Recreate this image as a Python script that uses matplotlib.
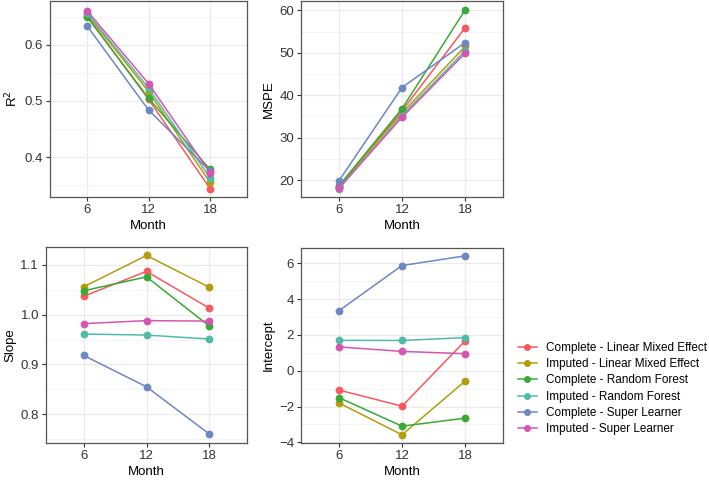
import matplotlib
matplotlib.use("Agg")
import matplotlib.pyplot as plt
from matplotlib.lines import Line2D
import numpy as np

plt.rcParams['font.family'] = ['Liberation Sans', 'DejaVu Sans']

# 数据
months = [6, 12, 18]
series = ["Complete - Linear Mixed Effect", "Imputed - Linear Mixed Effect",
          "Complete - Random Forest", "Imputed - Random Forest",
          "Complete - Super Learner", "Imputed - Super Learner"]
colors = ["#F8595F", "#B39C0E", "#3BA935", "#52BBA5", "#6D86C4", "#D456B2"]

r2 = [[0.652, 0.503, 0.344],
      [0.655, 0.517, 0.355],
      [0.650, 0.505, 0.378],
      [0.657, 0.523, 0.363],
      [0.634, 0.484, 0.375],
      [0.661, 0.531, 0.372]]

mspe = [[18.4, 36.3, 55.9],
        [18.5, 35.8, 51.5],
        [18.6, 36.8, 60.1],
        [17.9, 35.2, 50.5],
        [19.8, 41.8, 52.4],
        [18.1, 34.8, 49.9]]

slope = [[1.037, 1.087, 1.013],
         [1.056, 1.119, 1.055],
         [1.048, 1.076, 0.977],
         [0.961, 0.959, 0.951],
         [0.918, 0.855, 0.760],
         [0.982, 0.988, 0.987]]

intercept = [[-1.08, -1.98, 1.67],
             [-1.80, -3.58, -0.58],
             [-1.50, -3.10, -2.65],
             [1.70, 1.69, 1.85],
             [3.35, 5.88, 6.42],
             [1.33, 1.08, 0.95]]

W, H = 709, 482
fig = plt.figure(figsize=(W / 100, H / 100), dpi=100)


def make_ax(l, t, r, b):
    return fig.add_axes([l / W, 1 - b / H, (r - l) / W, (b - t) / H])


def draw(ax, data, ylabel, ylim, yticks, yminor):
    # 离散x轴：位置 1,2,3
    xs = np.arange(1, len(months) + 1)
    for i, vals in enumerate(data):
        ax.plot(xs, vals, color=colors[i], lw=1.1, marker='o', ms=4.6, zorder=3)
    ax.set_xlim(0.4, 3.6)
    ax.set_xticks(xs)
    ax.set_xticklabels([str(m) for m in months])
    ax.set_ylim(*ylim)
    ax.set_yticks(yticks)
    ax.set_yticks(yminor, minor=True)
    ax.grid(which='major', color='#EBEBEB', lw=0.9, zorder=0)
    ax.grid(which='minor', axis='y', color='#F3F3F3', lw=0.6, zorder=0)
    ax.set_axisbelow(True)
    ax.tick_params(which='major', length=3, width=0.8, color='#333333',
                   labelsize=9.5, labelcolor='#333333', pad=2)
    ax.tick_params(which='minor', length=0)
    for s in ax.spines.values():
        s.set_color('#555555')
        s.set_linewidth(0.9)
    ax.set_xlabel('Month', fontsize=9.5, labelpad=3)
    ax.set_ylabel(ylabel, fontsize=9.5, labelpad=3)


ax1 = make_ax(50, 1, 247, 197)
draw(ax1, r2, 'R$^2$', (0.329, 0.678), [0.4, 0.5, 0.6], [0.35, 0.45, 0.55, 0.65])
ax1.set_yticklabels(['0.4', '0.5', '0.6'])

ax2 = make_ax(301, 1, 503, 197)
draw(ax2, mspe, 'MSPE', (16.0, 62.2), [20, 30, 40, 50, 60], [25, 35, 45, 55])

ax3 = make_ax(46, 247, 247, 443)
draw(ax3, slope, 'Slope', (0.742, 1.136), [0.8, 0.9, 1.0, 1.1], [0.75, 0.85, 0.95, 1.05])
ax3.set_yticklabels(['0.8', '0.9', '1.0', '1.1'])

ax4 = make_ax(301, 248, 503, 443)
draw(ax4, intercept, 'Intercept', (-4.04, 6.86), [-4, -2, 0, 2, 4, 6], [-3, -1, 1, 3, 5])

handles = [Line2D([0], [0], color=c, lw=1.1, marker='o', ms=4) for c in colors]
fig.legend(handles, series, loc='upper left', bbox_to_anchor=(518 / W, 1 - 342 / H),
           frameon=False, fontsize=8.5, handlelength=1.6, handletextpad=0.8,
           labelspacing=0.36, borderaxespad=0, borderpad=0)

plt.savefig('out.png', dpi=100)
